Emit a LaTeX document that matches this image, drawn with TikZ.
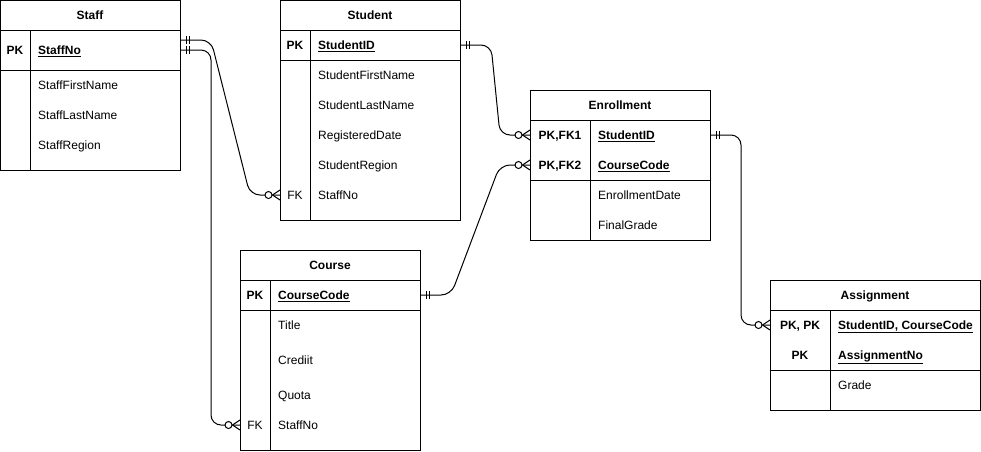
\documentclass[tikz,border=0pt]{standalone}
\usepackage{fontspec}
\setmainfont{Liberation Sans}
\usetikzlibrary{calc}

\tikzset{
    entity/.style={rectangle, draw, line width=1pt, anchor=north west, inner sep=0pt},
    title/.style={inner sep=0pt, text height=8.6pt, text depth=0pt, font=\fontsize{12}{14}\selectfont\bfseries},
    key/.style={inner sep=0pt, text height=8.6pt, text depth=0pt, font=\fontsize{12}{14}\selectfont\bfseries},
    fk/.style={inner sep=0pt, text height=8.6pt, text depth=0pt, font=\fontsize{12}{14}\selectfont},
    attr/.style={anchor=west, inner sep=0pt, text height=8.6pt, text depth=0pt, font=\fontsize{12}{14}\selectfont},
    pkattr/.style={attr, font=\fontsize{12}{14}\selectfont\bfseries},
    sep/.style={line width=1pt},
    rel/.style={line width=1pt, rounded corners=10pt},
    mandone/.pic={\draw[line width=1pt] (5,-4) -- (5,4) (8,-4) -- (8,4);},
    zeromany/.pic={\draw[line width=1pt, fill=white] (-11.5,0) circle (3.5);
                   \draw[line width=1pt] (-7.5,0) -- (0,-5) (-7.5,0) -- (0,5);}
}

\begin{document}
\begin{tikzpicture}[x=1pt, y=-1pt]
    \useasboundingbox (0,0) rectangle (981,451);

    % Staff
    \node[entity, minimum width=180pt, minimum height=170pt] (staff) at (0,0) {};
    \node[title] (staff-t) at (90,15) {Staff};
    \node[key] (staff-pk) at (15,50) {PK};
    \node[pkattr] (staff-no) at (38,50) {\underline{StaffNo}};
    \node[attr] (staff-fn) at (38,85) {StaffFirstName};
    \node[attr] (staff-ln) at (38,115) {StaffLastName};
    \node[attr] (staff-rg) at (38,145) {StaffRegion};
    \draw[sep] (0,30) -- (180,30);
    \draw[sep] (0,70) -- (180,70);
    \draw[sep] (30,30) -- (30,170);

    % Student
    \node[entity, minimum width=180pt, minimum height=220pt] (student) at (280,0) {};
    \node[title] (stu-t) at (370,15) {Student};
    \node[key] (stu-pk) at (295,45) {PK};
    \node[pkattr] (stu-id) at (318,45) {\underline{StudentID}};
    \node[attr] (stu-fn) at (318,75) {StudentFirstName};
    \node[attr] (stu-ln) at (318,105) {StudentLastName};
    \node[attr] (stu-rd) at (318,135) {RegisteredDate};
    \node[attr] (stu-rg) at (318,165) {StudentRegion};
    \node[fk] (stu-fk) at (295,195) {FK};
    \node[attr] (stu-staff) at (318,195) {StaffNo};
    \draw[sep] (280,30) -- (460,30);
    \draw[sep] (280,60) -- (460,60);
    \draw[sep] (310,30) -- (310,220);

    % Enrollment
    \node[entity, minimum width=180pt, minimum height=150pt] (enrol) at (530,90) {};
    \node[title] (enr-t) at (620,105) {Enrollment};
    \node[key] (enr-pk1) at (560,135) {PK,FK1};
    \node[pkattr] (enr-sid) at (598,135) {\underline{StudentID}};
    \node[key] (enr-pk2) at (560,165) {PK,FK2};
    \node[pkattr] (enr-code) at (598,165) {\underline{CourseCode}};
    \node[attr] (enr-date) at (598,195) {EnrollmentDate};
    \node[attr] (enr-grade) at (598,225) {FinalGrade};
    \draw[sep] (530,120) -- (710,120);
    \draw[sep] (530,180) -- (710,180);
    \draw[sep] (590,120) -- (590,240);

    % Course
    \node[entity, minimum width=180pt, minimum height=200pt] (course) at (240,250) {};
    \node[title] (crs-t) at (330,265) {Course};
    \node[key] (crs-pk) at (255,295) {PK};
    \node[pkattr] (crs-code) at (278,295) {\underline{CourseCode}};
    \node[attr] (crs-title) at (278,325) {Title};
    \node[attr] (crs-cr) at (278,360) {Crediit};
    \node[attr] (crs-quota) at (278,395) {Quota};
    \node[fk] (crs-fk) at (255,425) {FK};
    \node[attr] (crs-staff) at (278,425) {StaffNo};
    \draw[sep] (240,280) -- (420,280);
    \draw[sep] (240,310) -- (420,310);
    \draw[sep] (270,280) -- (270,450);

    % Assignment
    \node[entity, minimum width=210pt, minimum height=130pt] (assign) at (770,280) {};
    \node[title] (asg-t) at (875,295) {Assignment};
    \node[key] (asg-pk1) at (800,325) {PK, PK};
    \node[pkattr] (asg-ids) at (838,325) {\underline{StudentID, CourseCode}};
    \node[key] (asg-pk2) at (800,355) {PK};
    \node[pkattr] (asg-no) at (838,355) {\underline{AssignmentNo}};
    \node[attr] (asg-grade) at (838,385) {Grade};
    \draw[sep] (770,310) -- (980,310);
    \draw[sep] (770,370) -- (980,370);
    \draw[sep] (830,310) -- (830,410);

    % relationships
    \draw[rel] ($(staff.east |- staff-no)+(0,-10)$) -- ++(30,0) -- ($(student.west |- stu-staff)+(-30,0)$) -- (student.west |- stu-staff);
    \draw[rel] (staff.east |- staff-no) -- ++(30,0) |- (course.west |- crs-staff);
    \draw[rel] (student.east |- stu-id) -- ++(30,0) -- ($(enrol.west |- enr-sid)+(-30,0)$) -- (enrol.west |- enr-sid);
    \draw[rel] (course.east |- crs-code) -- ++(30,0) -- ($(enrol.west |- enr-code)+(-30,0)$) -- (enrol.west |- enr-code);
    \draw[rel] (enrol.east |- enr-sid) -- ++(30,0) |- (assign.west |- asg-ids);

    % ends
    \path ($(staff.east |- staff-no)+(0,-10)$) pic {mandone};
    \path (staff.east |- staff-no) pic {mandone};
    \path (student.east |- stu-id) pic {mandone};
    \path (course.east |- crs-code) pic {mandone};
    \path (enrol.east |- enr-sid) pic {mandone};
    \path (student.west |- stu-staff) pic {zeromany};
    \path (course.west |- crs-staff) pic {zeromany};
    \path (enrol.west |- enr-sid) pic {zeromany};
    \path (enrol.west |- enr-code) pic {zeromany};
    \path (assign.west |- asg-ids) pic {zeromany};
\end{tikzpicture}
\end{document}
